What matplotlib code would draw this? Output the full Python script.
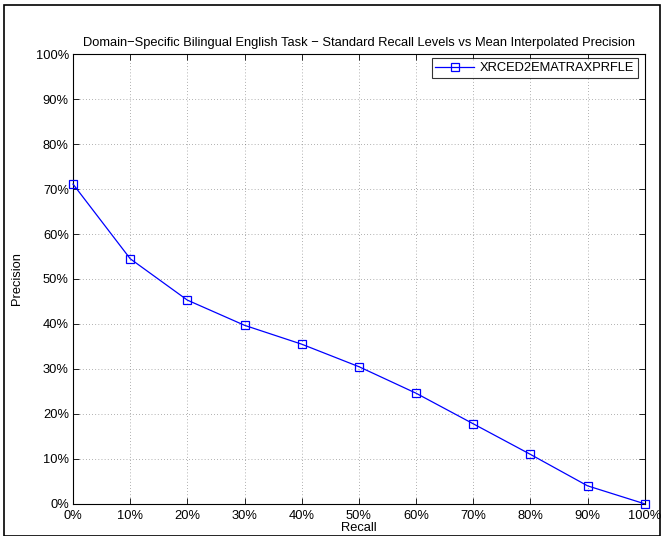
import numpy as np
import matplotlib.pyplot as plt
from matplotlib.patches import Rectangle
from matplotlib.ticker import PercentFormatter

# recall levels and mean interpolated precision (percent)
recall = [0, 10, 20, 30, 40, 50, 60, 70, 80, 90, 100]
precision = [71.1, 54.5, 45.3, 39.7, 35.5, 30.5, 24.6, 17.8, 11.0, 4.0, 0.0]
run_name = 'XRCED2EMATRAXPRFLE'

plt.rcParams['font.family'] = ['Liberation Sans', 'DejaVu Sans']
plt.rcParams['font.size'] = 9.3

fig = plt.figure(figsize=(6.64, 5.36), dpi=100)
ax = fig.add_axes([0.110, 0.060, 0.861, 0.839])

ax.plot(recall, precision, color='blue', lw=0.9, marker='s', markersize=5.5,
        markerfacecolor='none', markeredgecolor='blue', markeredgewidth=0.9,
        label=run_name, clip_on=False, zorder=5)

ax.set_xlim(0, 100)
ax.set_ylim(0, 100)
ax.set_xticks(np.arange(0, 101, 10))
ax.set_yticks(np.arange(0, 101, 10))
ax.xaxis.set_major_formatter(PercentFormatter(decimals=0))
ax.yaxis.set_major_formatter(PercentFormatter(decimals=0))
ax.tick_params(direction='in', top=True, right=True, length=4, width=0.6, colors='black')
ax.tick_params(axis='x', pad=4.5)
ax.tick_params(axis='y', pad=3)
ax.grid(True, linestyle=(0, (1, 3.5)), color='black', lw=0.5, alpha=0.6)
for s in ax.spines.values():
    s.set_linewidth(0.8)

ax.set_title('Domain\u2212Specific Bilingual English Task \u2212 Standard Recall Levels vs Mean Interpolated Precision',
             fontsize=9.3, pad=6)
ax.set_xlabel('Recall', labelpad=0)
ax.set_ylabel('Precision', labelpad=9)

leg = ax.legend(loc='upper right', fancybox=False, edgecolor='black', fontsize=9.3,
                borderaxespad=0.5, handlelength=3.0, borderpad=0.3, handletextpad=0.45,
                bbox_to_anchor=(1.0, 1.005))
leg.get_frame().set_linewidth(0.8)

# black frame around the whole figure (bottom edge sits at the figure edge)
fig.patches.append(Rectangle((0.006, 0.0), 0.988, 0.99, transform=fig.transFigure,
                             fill=False, edgecolor='black', lw=1.2))

fig.savefig('out.png', dpi=100)
